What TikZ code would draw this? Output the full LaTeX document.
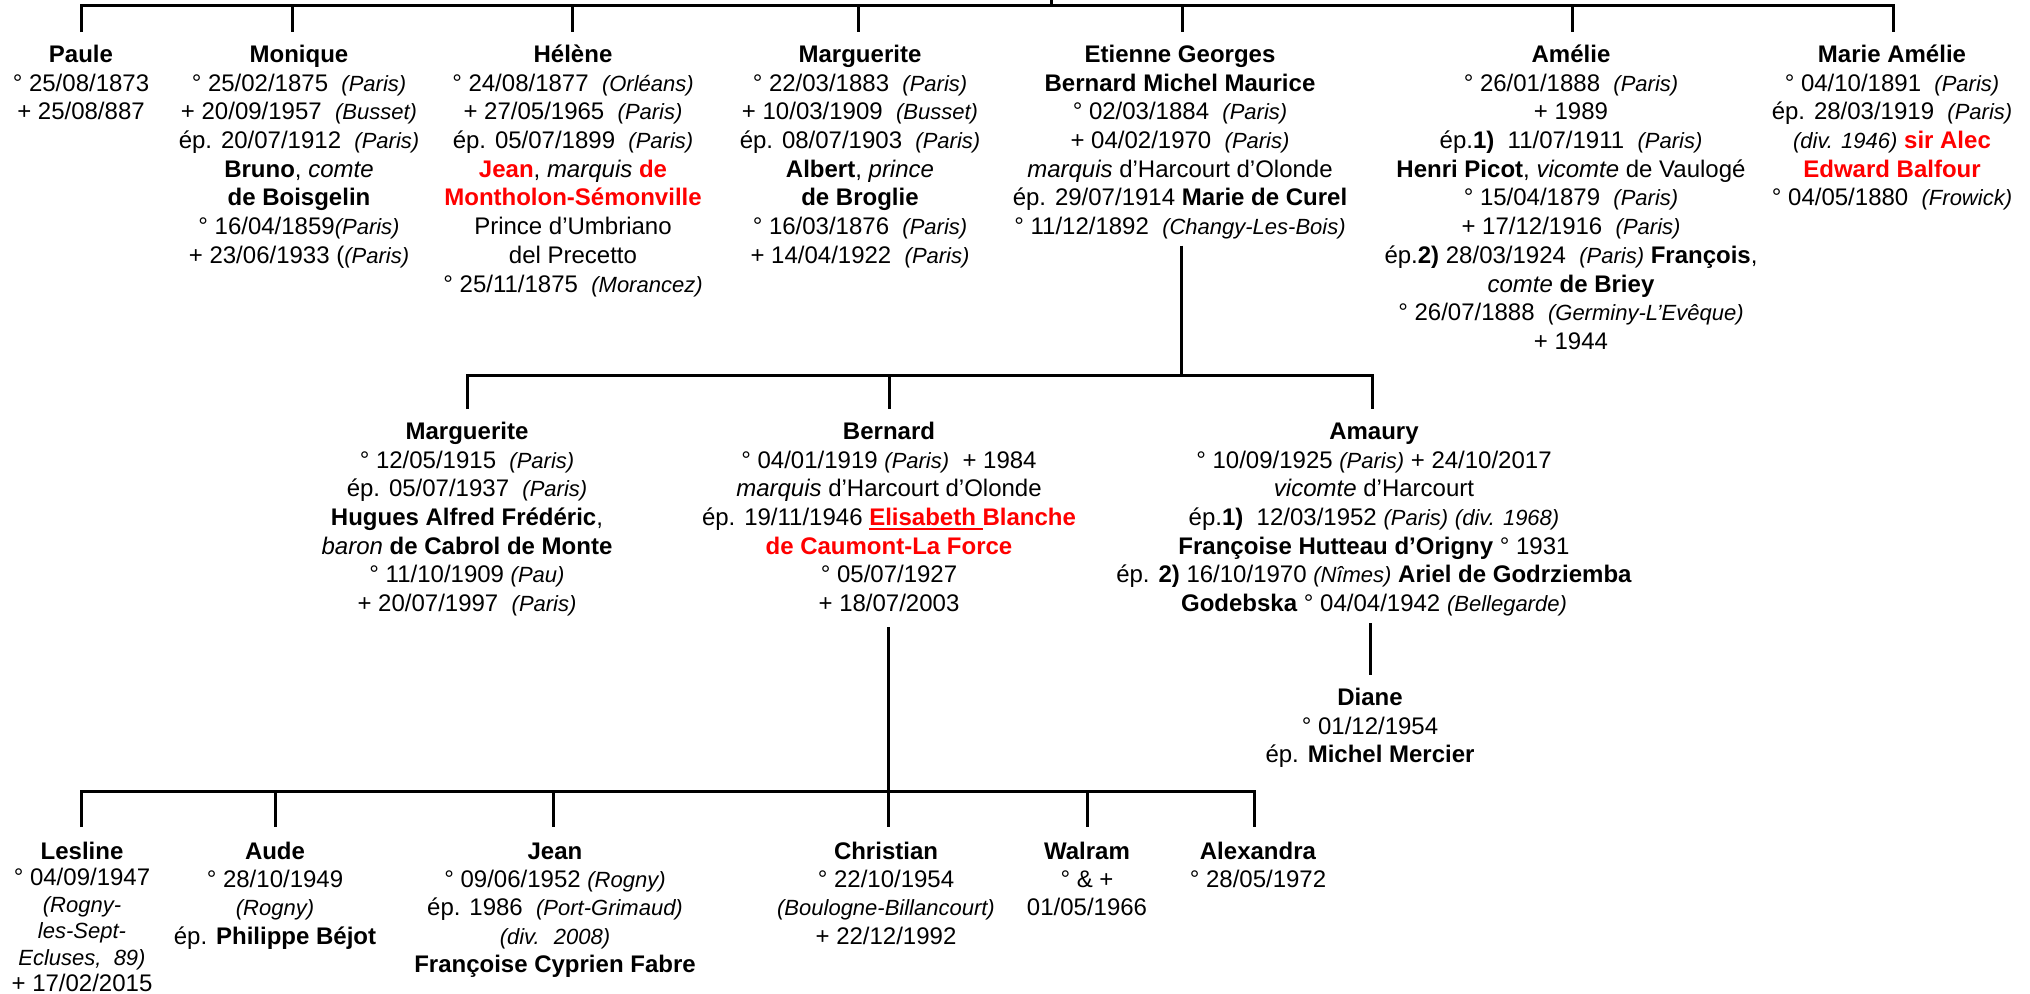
\documentclass[tikz,border=0pt]{standalone}
\usepackage{fontspec}
\setmainfont{Liberation Sans}
\newcommand\plc[1]{{\fontsize{11}{14.35}\selectfont\itshape #1}}
\newcommand\rdb[1]{\textcolor{red}{\textbf{#1}}}
\newcommand\tst{\rule{0pt}{10pt}}
\newcommand\redul[1]{\setbox0\hbox{#1}\rlap{\color{red}\rule[-2.3pt]{\wd0}{1pt}}\box0}
\begin{document}
\begin{tikzpicture}[x=0.5pt,y=-0.5pt,
  person/.style={anchor=north,inner sep=0pt,align=center,font=\fontsize{12}{14.35}\selectfont},
  lowperson/.style={person,font=\fontsize{12}{14.1}\selectfont},
  conn/.style={line width=1.5pt,draw=black}]
\useasboundingbox (0,0) rectangle (2030,993);

% ---------- generation 1 ----------
\node[person] (Paule) at (81,42) {\tst\textbf{Paule}\\° 25/08/1873\\+ 25/08/887};
\node[person] (Monique) at (299,42) {\tst\textbf{Monique}\\
° 25/02/1875~ \plc{(Paris)}\\
+ 20/09/1957~ \plc{(Busset)}\\
ép. 20/07/1912~ \plc{(Paris)}\\
\textbf{Bruno}, \textit{comte}\\
\textbf{de Boisgelin}\\
° 16/04/1859\plc{(Paris)}\\
+ 23/06/1933 (\plc{(Paris)}};
\node[person] (Helene) at (573,42) {\tst\textbf{Hélène}\\
° 24/08/1877~ \plc{(Orléans)}\\
+ 27/05/1965~ \plc{(Paris)}\\
ép. 05/07/1899~ \plc{(Paris)}\\
\rdb{Jean}, \textit{marquis} \rdb{de}\\
\rdb{Montholon-Sémonville}\\
Prince d’Umbriano\\
del Precetto\\
° 25/11/1875~ \plc{(Morancez)}};
\node[person] (Marg) at (860,42) {\tst\textbf{Marguerite}\\
° 22/03/1883~ \plc{(Paris)}\\
+ 10/03/1909~ \plc{(Busset)}\\
ép. 08/07/1903~ \plc{(Paris)}\\
\textbf{Albert}, \textit{prince}\\
\textbf{de Broglie}\\
° 16/03/1876~ \plc{(Paris)}\\
+ 14/04/1922~ \plc{(Paris)}};
\node[person] (Etienne) at (1180,42) {\tst\textbf{Etienne Georges}\\
\textbf{Bernard Michel Maurice}\\
° 02/03/1884~ \plc{(Paris)}\\
+ 04/02/1970~ \plc{(Paris)}\\
\textit{marquis} d’Harcourt d’Olonde\\
ép. 29/07/1914 \textbf{Marie de Curel}\\
° 11/12/1892~ \plc{(Changy-Les-Bois)}};
\node[person] (Amelie) at (1571,42) {\tst\textbf{Amélie}\\
° 26/01/1888~ \plc{(Paris)}\\
+ 1989\\
ép.\textbf{1)}~ 11/07/1911~ \plc{(Paris)}\\
\textbf{Henri Picot}, \textit{vicomte} de Vaulogé\\
° 15/04/1879~ \plc{(Paris)}\\
+ 17/12/1916~ \plc{(Paris)}\\
ép.\textbf{2)} 28/03/1924~ \plc{(Paris)} \textbf{François},\\
\textit{comte} \textbf{de Briey}\\
° 26/07/1888~ \plc{(Germiny-L’Evêque)}\\
+ 1944};
\node[person] (MarieA) at (1892,42) {\tst\textbf{Marie Amélie}\\
° 04/10/1891~ \plc{(Paris)}\\
ép. 28/03/1919~ \plc{(Paris)}\\
\plc{(div. 1946)} \rdb{sir Alec}\\
\rdb{Edward Balfour}\\
° 04/05/1880~ \plc{(Frowick)}};

% ---------- generation 2 ----------
\node[person] (Marg2) at (467,419) {\tst\textbf{Marguerite}\\
° 12/05/1915~ \plc{(Paris)}\\
ép. 05/07/1937~ \plc{(Paris)}\\
\textbf{Hugues Alfred Frédéric},\\
\textit{baron} \textbf{de Cabrol de Monte}\\
° 11/10/1909 \plc{(Pau)}\\
+ 20/07/1997~ \plc{(Paris)}};
\node[person] (Bernard) at (889,419) {\tst\textbf{Bernard}\\
° 04/01/1919 \plc{(Paris)}~ + 1984\\
\textit{marquis} d’Harcourt d’Olonde\\
ép. 19/11/1946 {\color{red}\bfseries\redul{Elisabeth\ }Blanche}\\
\rdb{de Caumont-La Force}\\
° 05/07/1927\\
+ 18/07/2003};
\node[person] (Amaury) at (1374,419) {\tst\textbf{Amaury}\\
° 10/09/1925 \plc{(Paris)} + 24/10/2017\\
\textit{vicomte} d’Harcourt\\
ép.\textbf{1)}~ 12/03/1952 \plc{(Paris)} \plc{(div. 1968)}\\
\textbf{Françoise Hutteau d’Origny} ° 1931\\
ép. \textbf{2)} 16/10/1970 \plc{(Nîmes)} \textbf{Ariel de Godrziemba}\\
\textbf{Godebska} ° 04/04/1942 \plc{(Bellegarde)}};
\node[person] (Diane) at (1370,685) {\tst\textbf{Diane}\\
° 01/12/1954\\
ép. \textbf{Michel Mercier}};

% ---------- generation 3 ----------
\node[person,font=\fontsize{12}{13.2}\selectfont] (Lesline) at (82,839) {\tst\textbf{Lesline}\\
° 04/09/1947\\
{\fontsize{11}{13.2}\selectfont\itshape (Rogny-}\\
{\fontsize{11}{13.2}\selectfont\itshape les-Sept-}\\
{\fontsize{11}{13.2}\selectfont\itshape Ecluses,~ 89)}\\
+ 17/02/2015};
\node[lowperson] (Aude) at (275,839) {\tst\textbf{Aude}\\
° 28/10/1949\\
\plc{(Rogny)}\\
ép. \textbf{Philippe Béjot}};
\node[lowperson] (Jean) at (555,839) {\tst\textbf{Jean}\\
° 09/06/1952 \plc{(Rogny)}\\
ép. 1986~ \plc{(Port-Grimaud)}\\
\plc{(div.~ 2008)}\\
\textbf{Françoise Cyprien Fabre}};
\node[lowperson] (Christian) at (886,839) {\tst\textbf{Christian}\\
° 22/10/1954\\
\plc{(Boulogne-Billancourt)}\\
+ 22/12/1992};
\node[lowperson] (Walram) at (1087,839) {\tst\textbf{Walram}\\
° \& +\\
01/05/1966};
\node[lowperson] (Alexandra) at (1258,839) {\tst\textbf{Alexandra}\\
° 28/05/1972};

% ---------- connectors ----------
% generation 1 bar
\coordinate (g1up) at (1051,0);
\coordinate (g1j) at (1051,5);
\coordinate (g1L) at (81,5);
\coordinate (g1R) at (1893,5);
\draw[conn] (g1up) -- (g1j);
\draw[conn] (81,32) -- (g1L) -- (g1R) -- (1893,32);
\foreach \x in {292,572,858,1182,1572}
  \draw[conn] (\x,5) -- (\x,32);

% generation 2 bar
\coordinate (g2L) at (467,375);
\coordinate (g2R) at (1372,375);
\coordinate (g2j) at (1181,375);
\draw[conn] (Etienne.south -| g2j) ++(0,6) -- (g2j);
\draw[conn] (467,409) -- (g2L) -- (g2R) -- (1372,409);
\draw[conn] (889,375) -- (889,409);
% Amaury -> Diane
\draw[conn] (1370,623) -- (1370,675);

% generation 3 bar
\coordinate (g3L) at (81,791);
\coordinate (g3R) at (1254,791);
\draw[conn] (888,627) -- (888,827);
\draw[conn] (81,827) -- (g3L) -- (g3R) -- (1254,827);
\foreach \x in {275,553,1087}
  \draw[conn] (\x,791) -- (\x,827);
\end{tikzpicture}
\end{document}
